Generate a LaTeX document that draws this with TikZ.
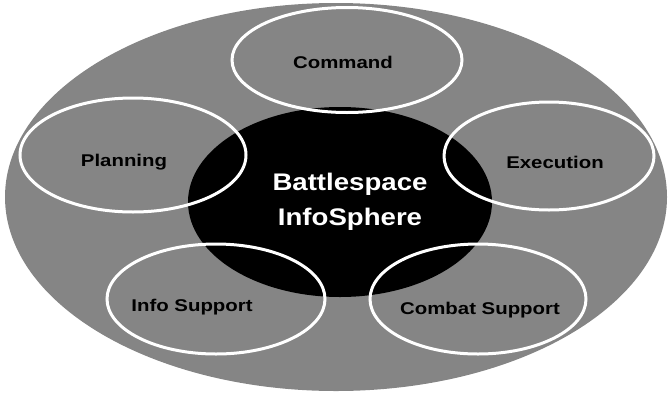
\documentclass[tikz,border=0pt]{standalone}
\usepackage{fontspec}
\setmainfont{Liberation Sans}
\usetikzlibrary{shapes.geometric}
\definecolor{dither}{gray}{0.52}
\begin{document}
\begin{tikzpicture}[x=1pt,y=-1pt,
  sphere/.style={ellipse,inner sep=0pt,fill=dither,draw=none},
  core/.style={ellipse,inner sep=0pt,fill=black,draw=none},
  rim/.style={ellipse,inner sep=0pt,draw=white,line width=3pt},
  lbl/.style={font=\bfseries\fontsize{17}{20}\selectfont,xscale=1.2,text=black,inner sep=0pt},
  title/.style={font=\bfseries\fontsize{24}{35}\selectfont,text=white,align=center,xscale=1.15,inner sep=0pt}]
\useasboundingbox (0,0) rectangle (668,394);
% outer sphere
\node[sphere,minimum width=662pt,minimum height=388pt] (outer) at (336,197) {};
% zone fills
\node[sphere,minimum width=230pt,minimum height=105pt] (cmd) at (347,60) {};
\node[sphere,minimum width=226pt,minimum height=114pt] (plan) at (133,155) {};
\node[sphere,minimum width=210pt,minimum height=108pt] (exec) at (549,156) {};
\node[sphere,minimum width=218pt,minimum height=110pt] (info) at (216,299) {};
\node[sphere,minimum width=216pt,minimum height=110pt] (cbt) at (478,299) {};
% core
\node[core,minimum width=304pt,minimum height=190pt] (core) at (340,202) {};
% zone rims
\node[rim,minimum width=230pt,minimum height=105pt] (cmdR) at (cmd.center) {};
\node[rim,minimum width=226pt,minimum height=114pt] (planR) at (plan.center) {};
\node[rim,minimum width=210pt,minimum height=108pt] (execR) at (exec.center) {};
\node[rim,minimum width=218pt,minimum height=110pt] (infoR) at (info.center) {};
\node[rim,minimum width=216pt,minimum height=110pt] (cbtR) at (cbt.center) {};
% labels
\node[title] (bis) at (350,202) {Battlespace\\InfoSphere};
\node[lbl] (tcmd) at (343,62) {Command};
\node[lbl] (tplan) at (124,162) {Planning};
\node[lbl] (texec) at (555,162) {Execution};
\node[lbl] (tinfo) at (192,307) {Info Support};
\node[lbl] (tcbt) at (480,310) {Combat Support};
\end{tikzpicture}
\end{document}
